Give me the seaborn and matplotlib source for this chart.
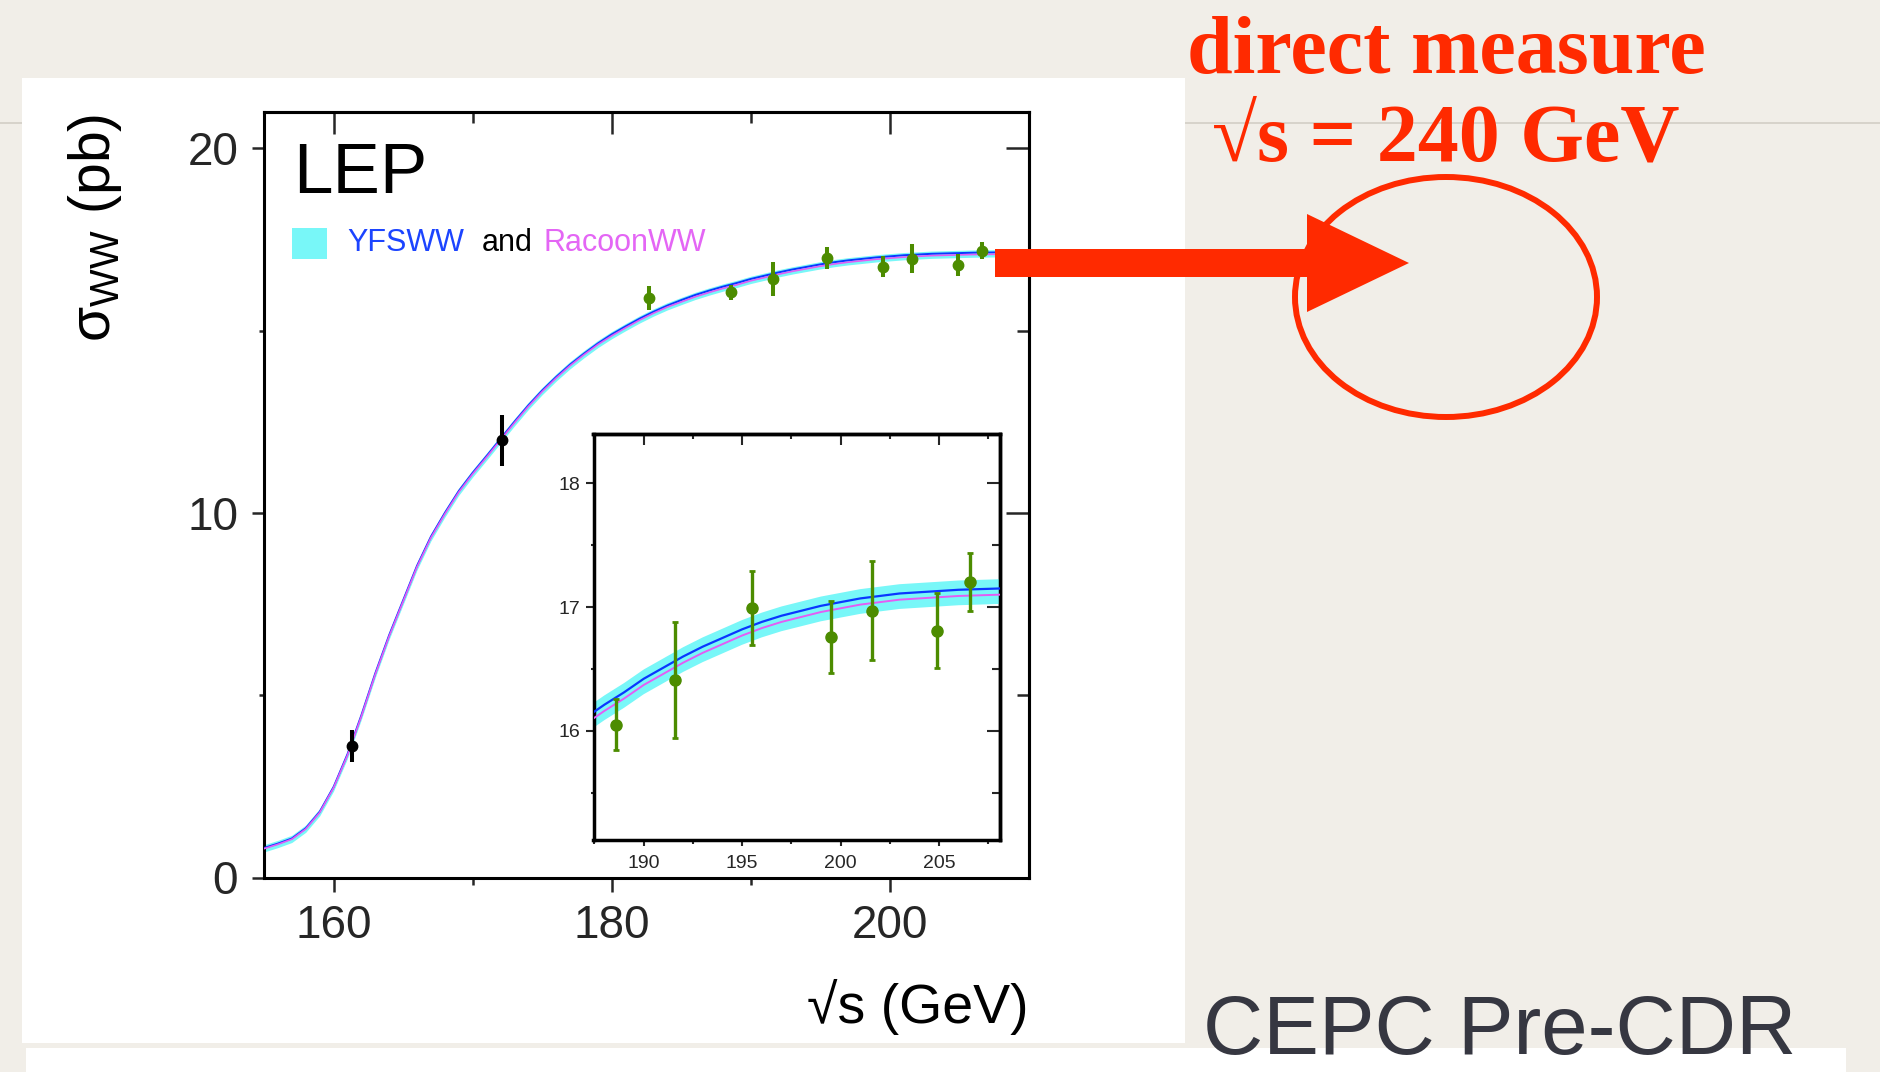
import matplotlib
matplotlib.use("Agg")
import matplotlib.pyplot as plt
import seaborn as sns
from matplotlib.patches import Rectangle, Polygon, Ellipse
from matplotlib.lines import Line2D
from matplotlib import font_manager as fm

# ---------------- data ----------------
sqrt_s = [155, 156, 157, 158, 159, 160, 161, 162, 163, 164, 165, 166, 167, 168,
          169, 170, 171, 172, 173, 174, 175, 176, 177, 178, 179, 180, 181, 182,
          183, 184, 185, 186, 187, 188, 189, 190, 191, 192, 193, 194, 195, 196,
          197, 198, 199, 200, 201, 202, 203, 204, 205, 206, 207, 208, 209, 210]
yfsww = [0.81, 0.93, 1.07, 1.35, 1.80, 2.48, 3.38, 4.45, 5.60, 6.65, 7.60, 8.55,
         9.35, 10.00, 10.60, 11.10, 11.56, 12.03, 12.50, 12.95, 13.36, 13.73,
         14.07, 14.37, 14.65, 14.90, 15.12, 15.33, 15.52, 15.69, 15.84, 15.98,
         16.10, 16.21, 16.31, 16.42, 16.51, 16.60, 16.68, 16.75, 16.82, 16.88,
         16.93, 16.97, 17.01, 17.04, 17.07, 17.09, 17.11, 17.12, 17.13, 17.14,
         17.145, 17.15, 17.155, 17.16]
racoonww = [0.79, 0.91, 1.05, 1.33, 1.78, 2.46, 3.35, 4.42, 5.57, 6.62, 7.57, 8.52,
            9.32, 9.97, 10.57, 11.07, 11.53, 12.00, 12.47, 12.92, 13.33, 13.70,
            14.04, 14.34, 14.62, 14.86, 15.08, 15.29, 15.48, 15.65, 15.79, 15.93,
            16.05, 16.16, 16.26, 16.37, 16.46, 16.55, 16.63, 16.70, 16.77, 16.83,
            16.88, 16.92, 16.96, 16.99, 17.02, 17.04, 17.06, 17.07, 17.08, 17.09,
            17.095, 17.10, 17.105, 17.11]
theory_half_width = 0.10  # pb, width of the cyan band

lep_early_x = [161.3, 172.1]
lep_early_y = [3.60, 12.00]
lep_early_err = [0.44, 0.70]

lep_x = [182.7, 188.6, 191.6, 195.5, 199.5, 201.6, 204.9, 206.6]
lep_y = [15.91, 16.05, 16.41, 16.99, 16.76, 16.97, 16.81, 17.20]
lep_err = [0.33, 0.21, 0.47, 0.30, 0.29, 0.40, 0.30, 0.235]

main_xticks = [160, 180, 200]
main_xminor = [170, 190]
main_yticks = [0, 10, 20]
main_yminor = [5, 15]
inset_xticks = [190, 195, 200, 205]
inset_xminor = [187.5, 192.5, 197.5, 202.5, 207.5]
inset_yticks = [16, 17, 18]
inset_yminor = [15.5, 16.5, 17.5]

# ---------------- style ----------------
W, H = 1880, 1072
BG = "#f1eee8"
RED = "#ff2a00"
BLUE = "#0a37ff"
MAGENTA = "#e45cf4"
CYAN = "#78f7f8"
GREEN = "#4c8c00"

sns.set_style("ticks")
plt.rcParams["font.family"] = ["Liberation Sans", "DejaVu Sans"]
plt.rcParams["mathtext.fontset"] = "custom"
plt.rcParams["mathtext.rm"] = "Liberation Sans"
plt.rcParams["mathtext.it"] = "Liberation Sans:italic"
plt.rcParams["mathtext.bf"] = "Liberation Sans:bold"
plt.rcParams["mathtext.default"] = "regular"


def fx(x):
    return x / W


def fy(y):
    return 1 - y / H


fig = plt.figure(figsize=(W / 100, H / 100), dpi=100, facecolor=BG)

# slide decorations
fig.add_artist(Line2D([0, 1], [fy(123), fy(123)], transform=fig.transFigure,
                      color="#d5d1c8", lw=1.3, zorder=-3))
fig.add_artist(Rectangle((fx(22), fy(1043)), fx(1185) - fx(22), fy(78) - fy(1043),
                         transform=fig.transFigure, facecolor="white",
                         edgecolor="none", zorder=-2))
fig.add_artist(Rectangle((fx(26), 0), fx(1846) - fx(26), fy(1048),
                         transform=fig.transFigure, facecolor="white",
                         edgecolor="none", zorder=-2))

# ---------------- main axes ----------------
ax = fig.add_axes([fx(264), fy(877.5), fx(1029) - fx(264), fy(112) - fy(877.5)])
ax.set_facecolor("white")
center = [(a + b) / 2 for a, b in zip(yfsww, racoonww)]
ax.fill_between(sqrt_s, [c - theory_half_width for c in center],
                [c + theory_half_width for c in center], color=CYAN, lw=0, zorder=2)
sns.lineplot(x=sqrt_s, y=yfsww, ax=ax, color=BLUE, lw=1.4, zorder=3)
sns.lineplot(x=sqrt_s, y=racoonww, ax=ax, color=MAGENTA, lw=1.2, zorder=3)
ax.errorbar(lep_early_x, lep_early_y, yerr=lep_early_err, fmt="o", color="black",
            ms=7.5, elinewidth=2.9, capsize=0, zorder=5)
ax.errorbar(lep_x, lep_y, yerr=lep_err, fmt="o", color=GREEN,
            ms=7.5, elinewidth=2.9, capsize=0, zorder=5)
ax.set_xlim(155, 210)
ax.set_ylim(0, 21)
ax.set_xlabel("")
ax.set_ylabel("")
ax.set_xticks(main_xticks)
ax.set_xticks(main_xminor, minor=True)
ax.set_yticks(main_yticks)
ax.set_yticks(main_yminor, minor=True)
ax.tick_params(axis="x", which="major", direction="out", length=10, width=1.8,
               labelsize=33, pad=9)
ax.tick_params(axis="x", which="minor", direction="out", length=5, width=1.8)
ax.tick_params(axis="y", which="major", direction="out", length=8.6, width=1.8,
               labelsize=33, pad=10)
ax.tick_params(axis="y", which="minor", direction="out", length=3.6, width=1.8)
for s in ax.spines.values():
    s.set_linewidth(2.2)
    s.set_color("black")
    s.set_visible(True)

top = ax.secondary_xaxis("top")
top.set_xticks(main_xticks, labels=[""] * len(main_xticks))
top.set_xticks(main_xminor, minor=True)
top.tick_params(which="major", direction="in", length=16, width=1.8)
top.tick_params(which="minor", direction="in", length=8, width=1.8)
right = ax.secondary_yaxis("right")
right.set_yticks(main_yticks, labels=[""] * len(main_yticks))
right.set_yticks(main_yminor, minor=True)
right.tick_params(which="major", direction="in", length=16.5, width=1.8)
right.tick_params(which="minor", direction="in", length=8.6, width=1.8)
for sec in (top, right):
    for s in sec.spines.values():
        s.set_linewidth(2.2)

# ---------------- inset ----------------
ins = fig.add_axes([fx(593.5), fy(839.5), fx(1000) - fx(593.5), fy(434) - fy(839.5)])
ins.set_facecolor("white")
ins.fill_between(sqrt_s, [c - theory_half_width for c in center],
                 [c + theory_half_width for c in center], color=CYAN, lw=0, zorder=2)
sns.lineplot(x=sqrt_s, y=yfsww, ax=ins, color=BLUE, lw=1.6, zorder=3)
sns.lineplot(x=sqrt_s, y=racoonww, ax=ins, color=MAGENTA, lw=1.4, zorder=3)
ins.errorbar(lep_x, lep_y, yerr=lep_err, fmt="o", color=GREEN, ms=8,
             elinewidth=2.4, capsize=2.4, capthick=2, zorder=5)
ins.set_xlim(187.45, 208.1)
ins.set_ylim(15.12, 18.4)
ins.set_xlabel("")
ins.set_ylabel("")
ins.set_xticks(inset_xticks)
ins.set_xticks(inset_xminor, minor=True)
ins.set_yticks(inset_yticks)
ins.set_yticks(inset_yminor, minor=True)
ins.tick_params(axis="x", which="major", direction="out", length=4.3, width=1.5,
                labelsize=14, pad=7)
ins.tick_params(axis="x", which="minor", direction="out", length=2.9, width=1.5)
ins.tick_params(axis="y", which="major", direction="out", length=5.8, width=1.5,
                labelsize=14, pad=4)
ins.tick_params(axis="y", which="minor", direction="out", length=2.2, width=1.5)
for s in ins.spines.values():
    s.set_linewidth(2.5)
    s.set_color("black")
    s.set_visible(True)
itop = ins.secondary_xaxis("top")
itop.set_xticks(inset_xticks, labels=[""] * len(inset_xticks))
itop.set_xticks(inset_xminor, minor=True)
itop.tick_params(which="major", direction="in", length=8, width=1.5)
itop.tick_params(which="minor", direction="in", length=3.6, width=1.5)
iright = ins.secondary_yaxis("right")
iright.set_yticks(inset_yticks, labels=[""] * len(inset_yticks))
iright.set_yticks(inset_yminor, minor=True)
iright.tick_params(which="major", direction="in", length=9.4, width=1.5)
iright.tick_params(which="minor", direction="in", length=6, width=1.5)
for sec in (itop, iright):
    for s in sec.spines.values():
        s.set_linewidth(2.5)

# ---------------- plot texts ----------------
fig.text(fx(95), fy(114), r"$\sigma_{\mathrm{WW}}$ (pb)", rotation=90,
         ha="center", va="top", fontsize=41, color="black")
fig.text(fx(1029), fy(1023), "√s (GeV)", ha="right", va="baseline",
         fontsize=40, color="black")
fig.text(fx(293), fy(193), "LEP", ha="left", va="baseline", fontsize=51,
         color="black")
fig.add_artist(Rectangle((fx(292), fy(259)), fx(327) - fx(292), fy(228) - fy(259),
                         transform=fig.transFigure, facecolor=CYAN,
                         edgecolor="none", zorder=4))
fig.text(fx(347), fy(251), "YFSWW", ha="left", va="baseline", fontsize=22,
         color="#1c44ff")
fig.text(fx(482), fy(251), "and", ha="left", va="baseline", fontsize=22,
         color="black")
fig.text(fx(543), fy(251), "RacoonWW", ha="left", va="baseline", fontsize=22,
         color="#e466f5")

# ---------------- slide annotations ----------------
serif = ["Liberation Serif", "DejaVu Serif"]
fig.text(fx(1446), fy(73), "direct measure", ha="center", va="baseline",
         fontsize=59, fontweight="bold", family=serif, color=RED)
fig.text(fx(1446), fy(160), "√s = 240 GeV", ha="center", va="baseline",
         fontsize=59, fontweight="bold", family=serif, color=RED)

arrow_px = [(995, 249), (1307, 249), (1307, 214), (1409, 263), (1307, 312),
            (1307, 277), (995, 277)]
fig.add_artist(Polygon([(fx(x), fy(y)) for x, y in arrow_px], closed=True,
                       transform=fig.transFigure, facecolor=RED, edgecolor="none",
                       zorder=10))
fig.add_artist(Ellipse((fx(1446), fy(297)), 302 / W, 240 / H,
                       transform=fig.transFigure, fill=False, edgecolor=RED,
                       lw=4.3, zorder=10))

names = {f.name for f in fm.fontManager.ttflist}
if "Liberation Sans Narrow" in names:
    cepc_family, cepc_size = ["Liberation Sans Narrow", "Liberation Sans"], 70
else:
    cepc_family, cepc_size = ["Liberation Sans", "DejaVu Sans"], 60
fig.text(fx(1203), fy(1071), "CEPC Pre-CDR", ha="left", va="bottom",
         fontsize=cepc_size, family=cepc_family, color="#363741", zorder=5)

fig.savefig("out.png", dpi=100, facecolor=BG)
